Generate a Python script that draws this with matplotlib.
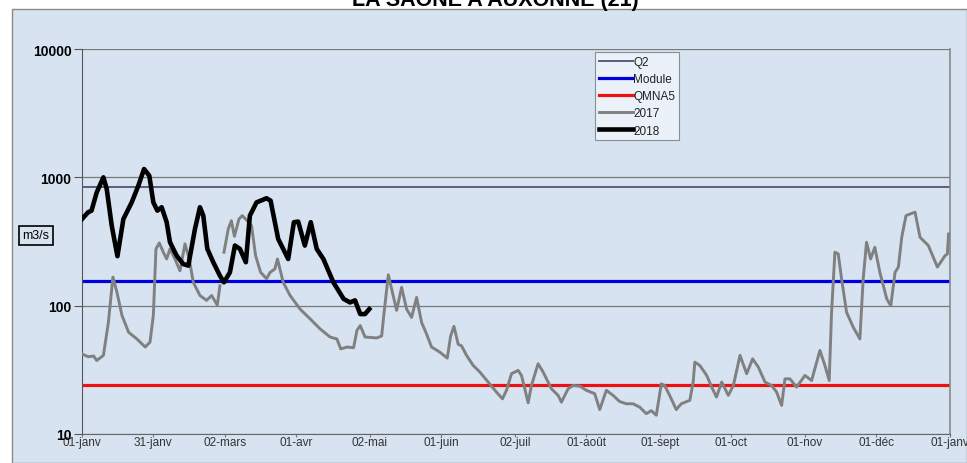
import numpy as np
import matplotlib
matplotlib.use("Agg")
import matplotlib.pyplot as plt
from matplotlib.patches import Rectangle

plt.rcParams['font.family'] = ['Liberation Sans', 'DejaVu Sans']

# ---------------- data ----------------
title = "LA SAÔNE A AUXONNE (21)"
tick_days = [0, 30, 60, 90, 121, 151, 182, 212, 243, 273, 304, 334, 365]
tick_labels = ["01-janv", "31-janv", "02-mars", "01-avr", "02-mai", "01-juin",
               "02-juil", "01-août", "01-sept", "01-oct", "01-nov", "01-déc", "01-janv"]

q2 = 845
module = 157
qmna5 = 24

days_2017 = [0, 2.6, 4.9, 6.2, 9.0, 11.1, 13.0, 14.7, 16.8, 19.6, 23.1, 26.6, 28.6, 30.0,
             31.1, 32.5, 34.2, 35.6, 37.0, 39.1, 41.2, 43.3, 45.1, 46.8, 49.6, 52.4, 54.5,
             56.9, 58.0, 58.8, 59.7, 61.5, 62.8, 64.1, 66.0, 67.4, 69.5, 71.3, 73.0, 75.1,
             77.6, 79.1, 81.1, 82.2, 84.6, 87.5, 91.7, 95.9, 100.1, 104.3, 107.2, 108.8,
             111.4, 114.2, 115.6, 117.0, 119.0, 123.9, 126.0, 126.9, 128.8, 130.2, 132.3,
             134.4, 136.5, 138.6, 140.7, 142.8, 144.9, 147.0, 150.5, 153.6, 155.0, 156.4,
             158.2, 159.6, 161.7, 164.5, 167.3, 170.8, 174.3, 176.8, 178.5, 180.6, 183.4,
             184.8, 186.2, 187.6, 189.0, 191.8, 193.9, 197.4, 200.2, 201.6, 204.4, 206.5,
             209.3, 212.1, 215.6, 217.7, 220.5, 223.3, 226.1, 228.9, 231.7, 234.5, 237.3,
             239.4, 241.5, 243.6, 245.0, 247.1, 249.9, 252.0, 255.6, 257.0, 257.7, 259.8,
             262.7, 264.8, 266.8, 269.0, 271.8, 273.9, 276.7, 279.5, 282.0, 284.4, 287.2,
             290.0, 292.1, 294.2, 295.6, 297.7, 300.5, 304.0, 306.8, 310.3, 312.4, 314.2,
             315.2, 316.6, 318.0, 319.4, 321.5, 324.3, 327.1, 328.5, 329.9, 331.6, 333.4,
             335.5, 338.4, 340.1, 341.9, 343.3, 344.7, 346.5, 348.2, 350.3, 352.4, 355.9,
             359.7, 362.9, 363.9, 364.4]
flow_2017 = [42, 40, 40.5, 37.4, 41, 74, 167, 127, 84, 62, 55, 47.6, 52, 84,
             277, 308, 261, 231, 277, 231, 187, 303, 231, 152, 120, 110, 120,
             101, 143, np.nan, 261, 396, 459, 347, 473, 503, 459, 420, 245, 182,
             162, 182, 193, 231, 152, 120, 94, 79, 66, 57, 55, 46,
             47.6, 47, 64, 70, 57, 56, 58, 84, 174, 135, 92,
             139, 94, 81, 116, 74, 60, 47.6, 43.4, 39, 58, 69,
             50, 48.6, 41, 34.2, 30.4, 25.4, 21.2, 18.8, 21.9, 29.5, 31.3,
             28.6, 22.5, 17.5, 23.9, 35.3, 30.4, 22.5, 20, 17.7, 22.5, 23.9,
             23.6, 21.9, 20.6, 15.5, 21.9, 20, 17.9, 17.2, 17.2, 16.2, 14.4,
             15.2, 14.0, 24.6, 23.9, 20, 15.5, 17.2, 18.3, 25.4, 36.3, 34.2,
             28.6, 23.2, 19.4, 25.4, 20, 23.9, 41, 29.5, 38.5, 33.2, 25.4,
             23.9, 21.2, 16.7, 26.9, 26.9, 23.2, 28.6, 26.1, 44.8, 34.2, 26.1,
             89, 261, 253, 162, 89, 68, 55, 162, 312, 231, 285,
             182, 113, 100, 182, 200, 341, 503, 518, 535, 341, 294,
             200, 245, 253, 362]

days_2018 = [0, 2.6, 4.0, 6.2, 9.0, 10.4, 12.5, 14.9, 17.4, 20.9, 23.7, 26.1, 28.3, 30.0,
             31.7, 33.5, 35.6, 37.0, 39.8, 42.6, 44.7, 47.5, 49.6, 51.0, 52.7, 55.2, 58.0,
             59.7, 62.2, 64.3, 66.4, 68.9, 70.6, 73.4, 77.6, 79.3, 81.1, 82.5, 84.6, 86.7,
             89.1, 90.9, 93.7, 96.2, 98.7, 101.5, 105.7, 110.0, 112.7, 114.8, 117.0, 119.0,
             120.8]
flow_2018 = [473, 535, 550, 764, 1000, 811, 420, 243, 473, 638, 861, 1161, 1030, 638,
             550, 585, 447, 312, 245, 211, 205, 396, 585, 503, 277, 218, 171,
             152, 182, 294, 277, 218, 503, 638, 687, 658, 447, 331, 277, 231,
             447, 452, 294, 447, 277, 231, 152, 113, 106, 110, 86, 86,
             94]

# ---------------- figure ----------------
W, H = 967, 464
fig = plt.figure(figsize=(W / 100, H / 100), dpi=100, facecolor='white')

bg = '#d7e3f1'
fig.patches.append(Rectangle((12 / W, 0), 1 - 12 / W, (H - 10) / H,
                             transform=fig.transFigure, facecolor=bg,
                             edgecolor='#8a8a8a', linewidth=1.0, zorder=-10))

fig.text(495 / W, 1 - 6 / H, title, ha='center', va='baseline',
         fontsize=15.5, fontweight='bold', color='black')

ax = fig.add_axes([82 / W, 1 - 435 / H, 868 / W, 385 / H])
ax.set_zorder(1)
ax.set_facecolor('none')
ax.set_yscale('log')
ax.set_ylim(10, 10000)
ax.set_xlim(0, 365)

for v in [10, 100, 1000, 10000]:
    ax.axhline(v, color='#7a7a7a', lw=0.9, zorder=1)

ax.plot([0, 365], [q2, q2], color='#5c5c7e', lw=1.4, label='Q2', zorder=2)
ax.plot([0, 365], [module, module], color='#0000dd', lw=2.3, label='Module', zorder=2)
ax.plot([0, 365], [qmna5, qmna5], color='#ee1111', lw=2.3, label='QMNA5', zorder=2)
ax.plot(days_2017, flow_2017, color='#808080', lw=2.1, label='2017', zorder=3)
ax.plot(days_2018, flow_2018, color='black', lw=3.3, label='2018', zorder=4)

ax.set_yticks([10, 100, 1000, 10000])
ax.set_yticklabels(['10', '100', '1000', '10000'], fontweight='bold', fontsize=10)
ax.yaxis.set_minor_locator(matplotlib.ticker.NullLocator())
ax.tick_params(axis='y', which='major', length=6, width=0.8, color='#555555', pad=1.5)

ax.set_xticks(tick_days)
ax.set_xticklabels(tick_labels, fontsize=8.5, color='#333333')
ax.tick_params(axis='x', length=2, width=0.8, color='#777777', pad=-0.5)

ax.spines['top'].set_visible(False)
ax.spines['left'].set_color('#555555')
ax.spines['bottom'].set_color('#666666')
ax.spines['right'].set_color('#888888')
ax.spines['right'].set_linewidth(1.2)

leg = ax.legend(loc='upper left', bbox_to_anchor=(595 / W, 1 - 53 / H),
                bbox_transform=fig.transFigure, frameon=True, fancybox=False,
                edgecolor='#333333', facecolor='white', framealpha=0.5,
                fontsize=8.5, handlelength=2.9, handletextpad=0.0,
                labelspacing=0.44, borderpad=0.32, borderaxespad=0)
leg.get_frame().set_linewidth(0.8)
for t in leg.get_texts():
    t.set_color('#222222')

fig.text(36 / W, 1 - 236.5 / H, 'm3/s', ha='center', va='center', fontsize=9,
         bbox=dict(boxstyle='square,pad=0.3', fc='none', ec='black', lw=1.2))

fig.savefig('out.png', dpi=100, facecolor=fig.get_facecolor())
